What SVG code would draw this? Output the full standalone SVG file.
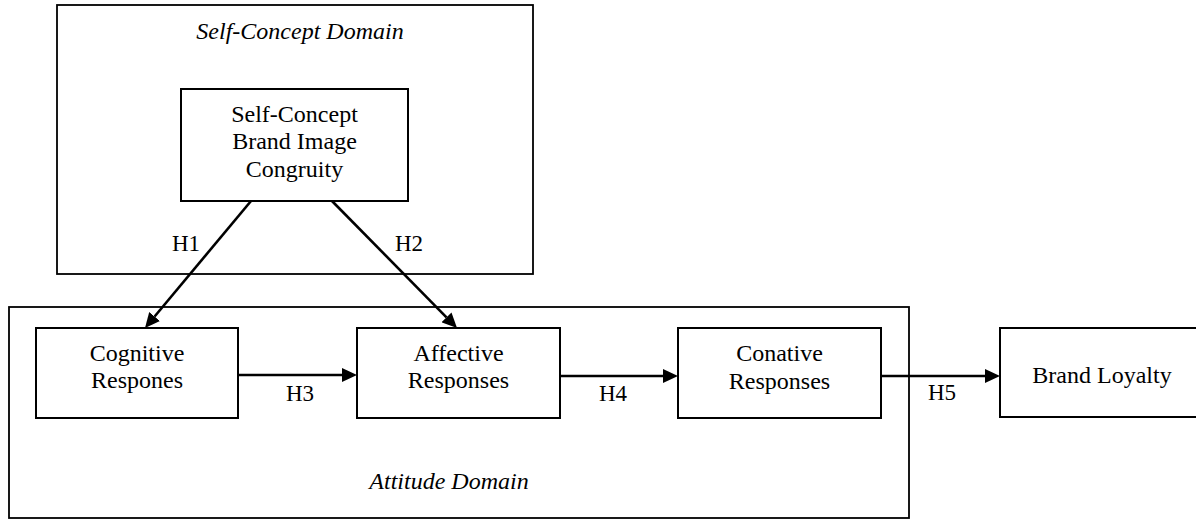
<svg xmlns="http://www.w3.org/2000/svg" width="1196" height="519" viewBox="0 0 1196 519">
  <defs>
    <marker id="arrowhead" markerUnits="userSpaceOnUse" markerWidth="15" markerHeight="14" refX="0" refY="7" orient="auto">
      <path d="M0,0 L15,7 L0,14 Z" fill="#000"/>
    </marker>
    <style>
      text { font-family: "Liberation Serif", "Times New Roman", serif; font-size: 24px; fill: #000; text-anchor: middle; }
      .domain-title { font-style: italic; }
      .domain { fill: none; stroke: #000; stroke-width: 1.8; }
      .box { fill: #fff; stroke: #000; stroke-width: 2; }
      .link { stroke: #000; stroke-width: 2.6; fill: none; marker-end: url(#arrowhead); }
      .hyp { font-size: 23px; }
    </style>
  </defs>
  <rect width="1196" height="519" fill="#fff"/>

  <!-- Domain frames -->
  <g id="self-concept-domain">
    <rect class="domain" x="57" y="5" width="476" height="269"/>
    <text class="domain-title" x="300" y="39">Self-Concept Domain</text>
  </g>
  <g id="attitude-domain">
    <rect class="domain" x="9" y="307" width="900" height="211"/>
    <text class="domain-title" x="449" y="489">Attitude Domain</text>
  </g>

  <!-- Constructs -->
  <g id="congruity">
    <rect class="box" x="181" y="89" width="227" height="112"/>
    <text x="294.5" y="122">Self-Concept</text>
    <text x="294.5" y="149">Brand Image</text>
    <text x="294.5" y="177">Congruity</text>
  </g>
  <g id="cognitive">
    <rect class="box" x="36" y="328" width="202" height="90"/>
    <text x="137" y="361">Cognitive</text>
    <text x="137" y="388">Respones</text>
  </g>
  <g id="affective">
    <rect class="box" x="357" y="328" width="203" height="90"/>
    <text x="458.5" y="361">Affective</text>
    <text x="458.5" y="388">Responses</text>
  </g>
  <g id="conative">
    <rect class="box" x="678" y="328" width="203" height="90"/>
    <text x="779.5" y="361">Conative</text>
    <text x="779.5" y="389">Responses</text>
  </g>
  <g id="brand-loyalty">
    <rect class="box" x="1000" y="328" width="206" height="89"/>
    <text x="1102" y="383">Brand Loyalty</text>
  </g>

  <!-- Hypothesised paths -->
  <g id="connectors">
    <line class="link" x1="251" y1="201" x2="154.6" y2="316.5"/>
    <line class="link" x1="332" y1="201" x2="446.5" y2="317.3"/>
    <line class="link" x1="238" y1="375" x2="342" y2="375"/>
    <line class="link" x1="560" y1="376" x2="663" y2="376"/>
    <line class="link" x1="881" y1="376" x2="985" y2="376"/>
    <text class="hyp" x="186" y="251">H1</text>
    <text class="hyp" x="409" y="251">H2</text>
    <text class="hyp" x="300" y="401">H3</text>
    <text class="hyp" x="613" y="401">H4</text>
    <text class="hyp" x="942" y="400">H5</text>
  </g>
</svg>
